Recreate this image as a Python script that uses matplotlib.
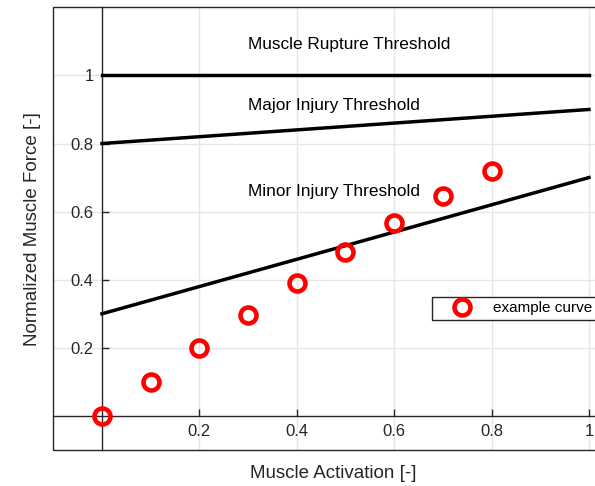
import numpy as np
import matplotlib
matplotlib.use("Agg")
import matplotlib.pyplot as plt
from matplotlib.patches import Rectangle

plt.rcParams['font.family'] = ['Liberation Sans', 'DejaVu Sans']

# data
activation = [0.0, 0.1, 0.2, 0.3, 0.4, 0.5, 0.6, 0.7, 0.8]
force = [0.0, 0.10, 0.20, 0.296, 0.39, 0.482, 0.567, 0.645, 0.718]

line_x = [0, 1]
rupture = [1.0, 1.0]
major = [0.8, 0.9]
minor = [0.3, 0.7]

xticks = [0.2, 0.4, 0.6, 0.8, 1.0]
yticks = [0.2, 0.4, 0.6, 0.8, 1.0]
xtick_labels = ['0.2', '0.4', '0.6', '0.8', '1']
ytick_labels = ['0.2', '0.4', '0.6', '0.8', '1']

axis_color = '#262626'

fig = plt.figure(figsize=(5.95, 4.86), dpi=100)
ax = fig.add_axes([53.3 / 595, 36 / 486, 560 / 595, 442.7 / 486])
ax.set_xlim(-0.1, 1.05)
ax.set_ylim(-0.1, 1.2)

# threshold lines
ax.plot(line_x, rupture, color='black', lw=2.5, zorder=3)
ax.plot(line_x, major, color='black', lw=2.5, zorder=3)
ax.plot(line_x, minor, color='black', lw=2.5, zorder=3)

ax.text(0.3, 1.09, 'Muscle Rupture Threshold', fontsize=12.4, va='center')
ax.text(0.3, 0.913, 'Major Injury Threshold', fontsize=12.4, va='center')
ax.text(0.3, 0.66, 'Minor Injury Threshold', fontsize=12.4, va='center')

ax.plot(activation, force, 'o', mfc='none', mec='red', ms=11.5, mew=3.3,
        label='example curve', zorder=4, clip_on=False)

# axes through the origin
for side in ['left', 'bottom']:
    ax.spines[side].set_position(('data', 0))
    ax.spines[side].set_color(axis_color)
    ax.spines[side].set_linewidth(1.0)
for side in ['top', 'right']:
    ax.spines[side].set_visible(False)

# outer box
ax.add_patch(Rectangle((0, 0), 1, 1, transform=ax.transAxes, fill=False,
                       edgecolor=axis_color, lw=1.0, clip_on=False, zorder=5))

ax.set_xticks(xticks)
ax.set_xticklabels(xtick_labels)
ax.set_yticks(yticks)
ax.set_yticklabels(ytick_labels)
ax.tick_params(direction='in', length=5, width=1.0, color=axis_color,
               labelcolor=axis_color, labelsize=12, pad=6)

ax.grid(True, color='#e6e6e6', lw=1.0)
ax.set_axisbelow(True)

ax.set_xlabel('Muscle Activation [-]', fontsize=13.5, color=axis_color)
ax.set_ylabel('Normalized Muscle Force [-]', fontsize=13.5, color=axis_color)
ax.xaxis.set_label_coords(0.5, -0.033)
ax.yaxis.set_label_coords(-0.022, 0.5)

leg = ax.legend(loc='upper left', bbox_to_anchor=(0.676, 0.346), fontsize=11,
                frameon=True, fancybox=False, borderaxespad=0, borderpad=0.3,
                handlelength=3.3, handletextpad=0.37, framealpha=1)
leg.get_frame().set_edgecolor(axis_color)
leg.get_frame().set_linewidth(1.0)

fig.savefig('out.png', dpi=100)
